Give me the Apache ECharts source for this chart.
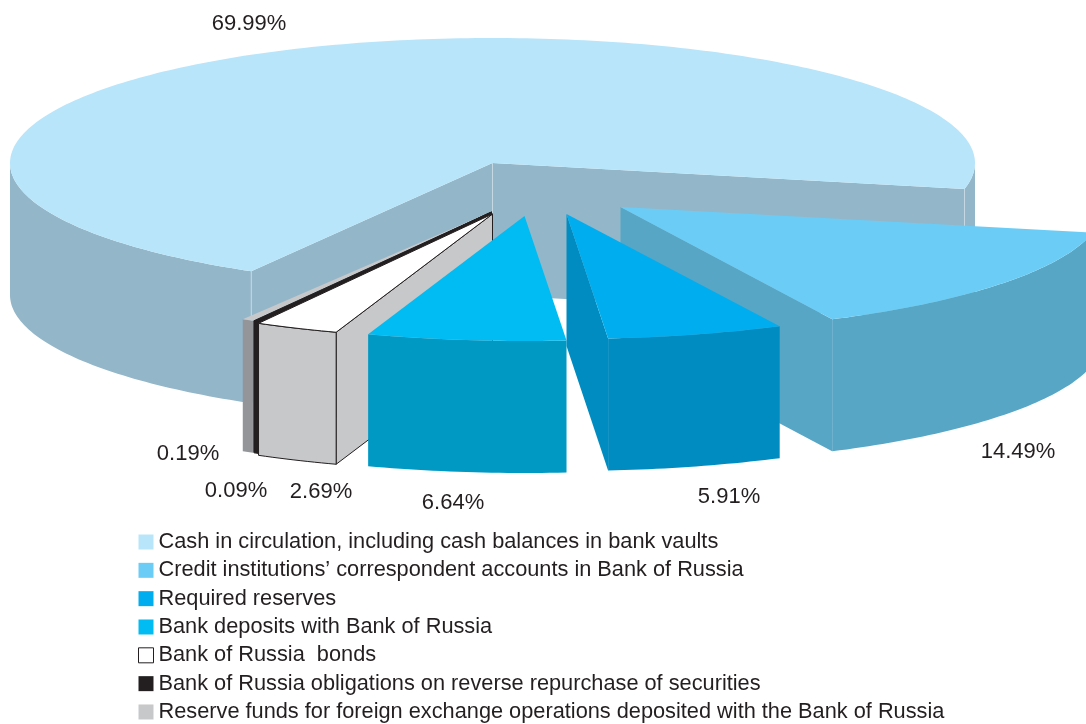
<!DOCTYPE html>
<html>
<head>
<meta charset="utf-8">
<script src="https://cdn.jsdelivr.net/npm/echarts@6/dist/echarts.min.js"></script>
<style>html,body{margin:0;padding:0;background:#fff}#c{width:1086px;height:724px}</style>
</head>
<body>
<div id="c"></div>
<script>
// Data
const categories = [
  'Cash in circulation, including cash balances in bank vaults',
  'Credit institutions\u2019 correspondent accounts in Bank of Russia',
  'Required reserves',
  'Bank deposits with Bank of Russia',
  'Bank of Russia  bonds',
  'Bank of Russia obligations on reverse repurchase of securities',
  'Reserve funds for foreign exchange operations deposited with the Bank of Russia'
];
const shares = [69.99, 14.49, 5.91, 6.64, 2.69, 0.09, 0.19];

// Styles
const topColors  = ['#b8e5fa', '#6bcdf6', '#00aeef', '#00bcf2', '#ffffff', '#231f20', '#c7c8ca'];
const wallColors = ['#93b6c9', '#57a6c6', '#008cc0', '#0099c4', '#c7c8ca', '#231f20', '#939598'];
const strokes    = [null, null, null, null, '#231f20', '#231f20', null];
const explodeX   = [0, 128, 74, 32, 0, -1, -2];
const explodeY   = [1, 45, 52, 54, 52, 50, 50];
const minSweep   = [0, 0, 0, 0, 10.1, 0.5, 1.4];
const angleShift = [0, -0.15, -0.35, -0.4, -0.4, 0, 0];
const drawOrder  = [0, 1, 2, 6, 5, 4, 3];
const labelX     = [249, 1018, 729, 453, 321, 236, 188];
const labelY     = [24, 452, 497, 503, 492, 491, 454];
const CX = 492.5, CY = 162, RX = 482.5, RY = 125, DEPTH = 132, START = 120;

// Start angle of every slice from the shares before it
const starts = [];
let cursor = START;
shares.forEach(function (s, i) {
  starts.push(cursor + angleShift[i]);
  cursor += s * 3.6;
});
starts[6] = starts[5] + minSweep[5];

function renderSlice(i) {
  return function (params, api) {
    const sweep = Math.max(api.value(0) * 3.6, minSweep[i]);
    const a0 = starts[i], a1 = a0 + sweep;
    const ox = CX + explodeX[i], oy = CY + explodeY[i];
    const pt = function (deg, dz) {
      const r = deg * Math.PI / 180;
      return [ox + RX * Math.cos(r), oy + RY * Math.sin(r) + (dz || 0)];
    };
    const stroke = strokes[i];
    const wallStyle = { fill: wallColors[i], stroke: stroke, lineWidth: 1 };
    const kids = [];
    const wall = function (points) {
      kids.push({ type: 'polygon', shape: { points: points }, style: wallStyle });
    };
    const edge = function (deg) {
      const p = pt(deg);
      wall([[ox, oy], p, [p[0], p[1] + DEPTH], [ox, oy + DEPTH]]);
    };
    if (Math.cos(a0 * Math.PI / 180) < 0) edge(a0);
    if (Math.cos(a1 * Math.PI / 180) > 0) edge(a1);
    [[0, 180], [360, 540]].forEach(function (w) {
      const lo = Math.max(a0, w[0]), hi = Math.min(a1, w[1]);
      if (hi <= lo) return;
      const top = [], bottom = [];
      const n = Math.max(1, Math.ceil(hi - lo));
      for (let k = 0; k <= n; k++) {
        const d = lo + (hi - lo) * k / n;
        top.push(pt(d));
        bottom.unshift(pt(d, DEPTH));
      }
      wall(top.concat(bottom));
    });
    if (i === 0) {
      [[ox, oy], pt(a0), pt(a1)].forEach(function (p) {
        kids.push({ type: 'line', shape: { x1: p[0], y1: p[1], x2: p[0], y2: p[1] + DEPTH },
          style: { stroke: '#c6d8e2', lineWidth: 1 } });
      });
    }
    const face = [[ox, oy]];
    const m = Math.max(1, Math.ceil(sweep));
    for (let k = 0; k <= m; k++) face.push(pt(a0 + sweep * k / m));
    kids.push({ type: 'polygon', shape: { points: face },
      style: { fill: topColors[i], stroke: stroke, lineWidth: 1 } });
    return { type: 'group', children: kids };
  };
}

const FONT = '"Liberation Sans", Arial, sans-serif';
const chart = echarts.init(document.getElementById('c'), null, { renderer: 'canvas' });
chart.setOption({
  animation: false,
  backgroundColor: '#ffffff',
  legend: {
    left: 138, top: 531, height: 193, padding: 0, orient: 'vertical', selectedMode: false,
    itemWidth: 15, itemHeight: 15, itemGap: 6.33,
    textStyle: { fontFamily: FONT, fontSize: 21.75, color: '#231f20', padding: 0, lineHeight: 22 },
    data: categories.map(function (name, i) {
      return { name: name, icon: 'rect',
        itemStyle: { color: topColors[i], borderColor: i === 4 ? '#231f20' : topColors[i], borderWidth: i === 4 ? 1 : 0 } };
    })
  },
  series: drawOrder.map(function (i) {
    return {
      type: 'custom', name: categories[i], coordinateSystem: 'none', silent: true,
      itemStyle: { color: topColors[i] },
      data: [[shares[i]]],
      renderItem: renderSlice(i)
    };
  }),
  graphic: shares.map(function (s, i) {
    return { type: 'text', x: labelX[i], y: labelY[i], z: 100, silent: true,
      style: { text: s.toFixed(2) + '%', fill: '#231f20', font: '22px ' + FONT, align: 'center', verticalAlign: 'middle' } };
  })
});
</script>
</body>
</html>
